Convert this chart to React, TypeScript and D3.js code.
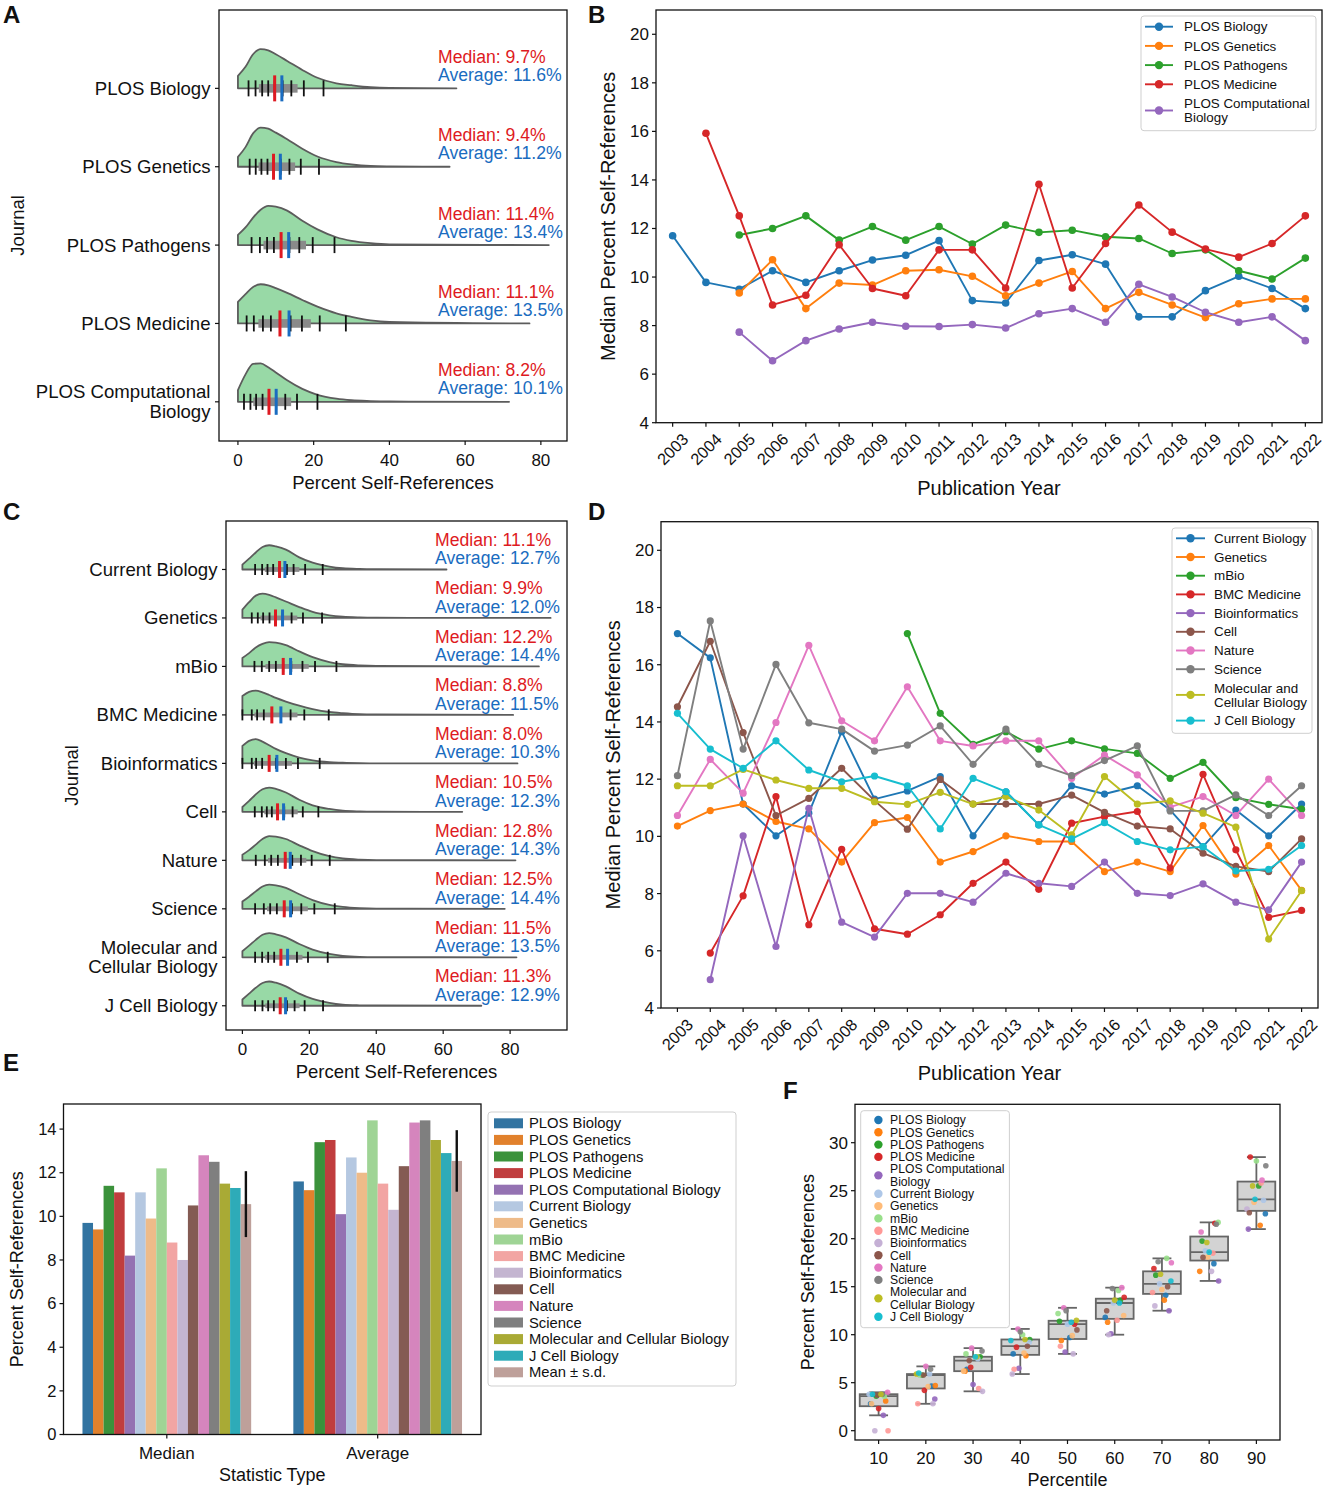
import React, { useEffect, useRef } from 'react';
import * as d3 from 'd3';

const FONT = '"Liberation Sans", Arial, Helvetica, sans-serif';

// journals, in the order used by panels A/C/E/F
const journals = [
  'PLOS Biology', 'PLOS Genetics', 'PLOS Pathogens', 'PLOS Medicine', 'PLOS Computational Biology',
  'Current Biology', 'Genetics', 'mBio', 'BMC Medicine', 'Bioinformatics',
  'Cell', 'Nature', 'Science', 'Molecular and Cellular Biology', 'J Cell Biology',
];
const wrappedNames: Record<string, string[]> = {
  'PLOS Computational Biology': ['PLOS Computational', 'Biology'],
  'Molecular and Cellular Biology': ['Molecular and', 'Cellular Biology'],
};
const journalColors = [
  '#1f77b4', '#ff7f0e', '#2ca02c', '#d62728', '#9467bd',
  '#aec7e8', '#ffbb78', '#98df8a', '#ff9896', '#c5b0d5',
  '#8c564b', '#e377c2', '#7f7f7f', '#bcbd22', '#17becf',
];
const meanColor = '#c49c94';
const tab10 = ['#1f77b4', '#ff7f0e', '#2ca02c', '#d62728', '#9467bd', '#8c564b', '#e377c2', '#7f7f7f', '#bcbd22', '#17becf'];

const medians = [9.7, 9.4, 11.4, 11.1, 8.2, 11.1, 9.9, 12.2, 8.8, 8.0, 10.5, 12.8, 12.5, 11.5, 11.3];
const averages = [11.6, 11.2, 13.4, 13.5, 10.1, 12.7, 12.0, 14.4, 11.5, 10.3, 12.3, 14.3, 14.4, 13.5, 12.9];
const maxima = [57.7, 55.9, 82.1, 77.0, 71.6, 61.0, 92.1, 88.6, 80.9, 82.2, 65.7, 81.6, 78.4, 81.9, 71.4];

const percentileLevels = [10, 20, 30, 40, 50, 60, 70, 80, 90];
// one row per journal: 10th..90th percentile of percent self-references
const percentileValues = [
  [2.8, 4.65, 6.4, 8.0, 9.7, 11.8, 14.1, 17.4, 22.6],
  [3.1, 4.7, 6.2, 7.8, 9.4, 11.3, 13.6, 16.6, 21.4],
  [3.6, 5.8, 7.7, 9.5, 11.4, 13.6, 16.2, 19.75, 25.5],
  [2.3, 4.2, 6.6, 8.7, 11.1, 13.9, 16.9, 21.6, 28.5],
  [1.6, 3.3, 4.8, 6.5, 8.2, 10.1, 12.5, 15.6, 21.0],
  [3.8, 5.9, 7.5, 9.2, 11.1, 13.3, 15.3, 18.75, 24.0],
  [2.8, 4.6, 6.2, 8.1, 9.9, 12.0, 14.7, 18.1, 23.8],
  [3.6, 5.8, 8.0, 10.0, 12.2, 14.6, 17.95, 21.7, 28.1],
  [0, 2.8, 4.4, 6.4, 8.8, 11.5, 14.4, 18.5, 25.8],
  [0, 2.8, 4.1, 5.9, 8.0, 10.0, 13.0, 16.6, 23.1],
  [3.7, 5.8, 7.3, 8.8, 10.5, 12.5, 15.0, 18.05, 22.7],
  [4.0, 6.7, 8.6, 10.6, 12.8, 14.9, 17.5, 20.7, 26.1],
  [3.8, 6.4, 8.3, 10.3, 12.5, 14.8, 17.6, 21.5, 27.6],
  [3.8, 5.9, 7.7, 9.5, 11.5, 13.6, 16.3, 19.6, 25.5],
  [3.8, 6.0, 7.7, 9.4, 11.3, 13.3, 15.6, 18.6, 24.1],
];

// relative density of each half violin, read at these percent values
const densityGrid = [0, 2, 4, 6, 8, 10, 13, 17, 21, 26, 30, 35, 40];
const densityProfiles = [
  [0.32, 0.55, 0.87, 1.0, 0.97, 0.87, 0.7, 0.47, 0.27, 0.13, 0.08, 0.03, 0.01],
  [0.25, 0.5, 0.85, 1.0, 0.97, 0.87, 0.7, 0.46, 0.26, 0.12, 0.06, 0.02, 0.01],
  [0.26, 0.45, 0.7, 0.9, 1.0, 0.98, 0.88, 0.62, 0.4, 0.2, 0.11, 0.05, 0.02],
  [0.55, 0.75, 0.93, 1.0, 0.97, 0.9, 0.78, 0.6, 0.43, 0.26, 0.17, 0.08, 0.04],
  [0.3, 0.7, 0.97, 0.98, 0.88, 0.75, 0.55, 0.33, 0.18, 0.08, 0.04, 0.02, 0.01],
  [0.2, 0.45, 0.7, 0.93, 1.0, 0.95, 0.82, 0.5, 0.28, 0.12, 0.05, 0.02, 0.01],
  [0.34, 0.65, 0.92, 1.0, 0.95, 0.85, 0.68, 0.45, 0.25, 0.11, 0.05, 0.02, 0.01],
  [0.35, 0.55, 0.78, 0.93, 1.0, 0.98, 0.88, 0.62, 0.38, 0.18, 0.09, 0.04, 0.02],
  [0.78, 0.95, 1.0, 0.93, 0.82, 0.7, 0.55, 0.38, 0.24, 0.12, 0.07, 0.03, 0.02],
  [0.72, 0.93, 1.0, 0.9, 0.75, 0.6, 0.42, 0.24, 0.12, 0.05, 0.03, 0.01, 0.0],
  [0.2, 0.45, 0.72, 0.93, 1.0, 0.95, 0.8, 0.5, 0.27, 0.12, 0.05, 0.02, 0.01],
  [0.23, 0.42, 0.65, 0.88, 1.0, 0.98, 0.88, 0.62, 0.38, 0.17, 0.08, 0.03, 0.01],
  [0.3, 0.5, 0.72, 0.92, 1.0, 0.97, 0.86, 0.6, 0.36, 0.16, 0.08, 0.03, 0.01],
  [0.25, 0.48, 0.72, 0.93, 1.0, 0.95, 0.82, 0.55, 0.32, 0.14, 0.06, 0.02, 0.01],
  [0.26, 0.5, 0.74, 0.94, 1.0, 0.95, 0.8, 0.5, 0.28, 0.12, 0.05, 0.02, 0.01],
];

const years = [2003, 2004, 2005, 2006, 2007, 2008, 2009, 2010, 2011, 2012, 2013, 2014, 2015, 2016, 2017, 2018, 2019, 2020, 2021, 2022];

// panel B: median percent self-references per year
const plosBiology = [11.7, 9.78, 9.5, 10.26, 9.78, 10.26, 10.7, 10.9, 11.5, 9.03, 8.93, 10.68, 10.92, 10.53, 8.36, 8.36, 9.44, 10.03, 9.53, 8.7];
const plosGenetics = [null, null, 9.34, 10.71, 8.7, 9.75, 9.67, 10.26, 10.3, 10.03, 9.23, 9.75, 10.23, 8.7, 9.37, 8.85, 8.33, 8.9, 9.1, 9.1];
const plosPathogens = [null, null, 11.73, 12.0, 12.52, 11.52, 12.08, 11.52, 12.08, 11.36, 12.14, 11.84, 11.93, 11.66, 11.59, 10.97, 11.12, 10.26, 9.92, 10.78];
const plosMedicine = [null, 15.92, 12.52, 8.85, 9.25, 11.33, 9.53, 9.23, 11.12, 11.12, 9.55, 13.82, 9.55, 11.38, 12.97, 11.85, 11.15, 10.82, 11.38, 12.52];
const plosCompBio = [null, null, 7.73, 6.55, 7.38, 7.86, 8.14, 7.97, 7.96, 8.04, 7.9, 8.49, 8.7, 8.14, 9.7, 9.18, 8.55, 8.14, 8.36, 7.38];

// panel D
const currentBiology = [17.09, 16.24, 11.13, 10.02, 10.81, 13.66, 11.3, 11.59, 12.09, 10.02, 11.56, 10.4, 11.77, 11.48, 11.77, 10.92, 9.64, 10.92, 10.02, 11.13];
const genetics = [10.36, 10.9, 11.13, 10.52, 10.26, 9.1, 10.48, 10.66, 9.1, 9.47, 10.02, 9.82, 9.82, 8.77, 9.1, 8.77, 10.38, 8.68, 9.68, 8.11];
const mBio = [null, null, null, null, null, null, null, 17.09, 14.3, 13.22, 13.66, 13.05, 13.34, 13.06, 12.9, 12.03, 12.59, 11.35, 11.12, 10.95];
const bmcMedicine = [null, 5.92, 7.92, 11.39, 6.91, 9.55, 6.77, 6.58, 7.26, 8.36, 9.1, 8.15, 10.46, 10.69, 10.87, 8.89, 12.17, 9.53, 7.17, 7.41];
const bioinformatics = [null, 4.99, 10.02, 6.15, 10.98, 7.0, 6.48, 8.01, 8.01, 7.7, 8.71, 8.36, 8.25, 9.1, 8.01, 7.93, 8.34, 7.7, 7.43, 9.1];
const cell = [14.53, 16.82, 13.63, 10.73, 11.33, 12.38, 11.25, 10.25, 11.99, 11.13, 11.13, 11.13, 11.44, 10.84, 10.36, 10.26, 9.41, 8.95, 8.77, 9.91];
const nature = [10.73, 12.69, 11.51, 13.98, 16.68, 14.04, 13.34, 15.23, 13.34, 13.16, 13.34, 13.34, 12.03, 12.84, 12.15, 11.02, 11.39, 10.73, 12.0, 10.73];
const science = [12.12, 17.53, 13.05, 16.01, 13.97, 13.75, 12.98, 13.19, 13.86, 12.52, 13.75, 12.52, 12.12, 12.65, 13.16, 10.89, 10.89, 11.45, 10.73, 11.77];
const molCellBiology = [11.77, 11.77, 12.34, 11.97, 11.68, 11.68, 11.21, 11.12, 11.54, 11.13, 11.39, 10.92, 10.05, 12.09, 11.13, 11.24, 10.81, 10.32, 6.41, 8.1];
const jCellBiology = [14.3, 13.05, 12.38, 13.34, 12.32, 11.91, 12.11, 11.77, 10.26, 12.03, 11.56, 10.4, 9.91, 10.48, 9.82, 9.53, 9.64, 8.79, 8.85, 9.68];

const plosSeries = [plosBiology, plosGenetics, plosPathogens, plosMedicine, plosCompBio];
const otherSeries = [currentBiology, genetics, mBio, bmcMedicine, bioinformatics, cell, nature, science, molCellBiology, jCellBiology];

const statTypes = ['Median', 'Average'];
const yearTicks = [4, 6, 8, 10, 12, 14, 16, 18, 20];

const RED = '#de1a22';
const BLUE = '#1a6cc0';

type Sel = d3.Selection<any, any, any, any>;

const nameLines = (n: string) => wrappedNames[n] ?? [n];

function label(g: Sel, x: number, y: number, s: string, size: number, o: any = {}) {
  const t = g.append('text')
    .attr('x', x).attr('y', y)
    .attr('font-size', size)
    .attr('fill', o.fill || '#111')
    .attr('text-anchor', o.anchor || 'start')
    .text(s);
  if (o.dy) t.attr('dy', o.dy);
  if (o.weight) t.attr('font-weight', o.weight);
  if (o.rotate != null) t.attr('transform', `rotate(${o.rotate},${x},${y})`);
  return t;
}

function frame(g: Sel, l: number, t: number, r: number, b: number) {
  g.append('rect').attr('x', l).attr('y', t).attr('width', r - l).attr('height', b - t)
    .attr('fill', 'none').attr('stroke', '#111').attr('stroke-width', 1.3);
}

function legendBox(g: Sel, x0: number, y0: number, x1: number, y1: number) {
  g.append('rect').attr('x', x0).attr('y', y0).attr('width', x1 - x0).attr('height', y1 - y0)
    .attr('rx', 3).attr('fill', '#fff').attr('fill-opacity', 0.85)
    .attr('stroke', '#cfcfcf').attr('stroke-width', 1);
}

// rows of a legend: returns text line positions and the marker centre of every entry
function legendRows(entries: string[][], start: number, rowGap: number, lineGap: number) {
  let y = start;
  return entries.map((ls) => {
    const ys = ls.map((_, k) => y + k * lineGap);
    const mid = (ys[0] + ys[ys.length - 1]) / 2;
    y = ys[ys.length - 1] + rowGap;
    return { ys, mid };
  });
}

function drawViolins(svg: Sel, cfg: any) {
  const g = svg.append('g');
  const x = d3.scaleLinear().domain(cfg.xDomain).range([cfg.left, cfg.right]);
  const y = d3.scaleLinear().domain([-1, cfg.ids.length - 0.5]).range([cfg.top, cfg.bottom]);
  const unit = y(1) - y(0);
  const h = unit * 0.5;

  cfg.ids.forEach((j: number, i: number) => {
    const y0 = y(i);
    const pts: [number, number][] = densityGrid.map((v, k) => [x(v), y0 - densityProfiles[j][k] * h]);
    pts.push([x(maxima[j]), y0]);
    const curve = d3.line().curve(d3.curveMonotoneX)(pts) as string;
    g.append('path')
      .attr('d', `M${x(0)},${y0}L${curve.slice(1)}Z`)
      .attr('fill', '#98d9a6').attr('stroke', '#5c5c5c').attr('stroke-width', 1.8)
      .attr('stroke-linejoin', 'round');

    const p = percentileValues[j];
    const q1 = (p[1] + p[2]) / 2;
    const q3 = (p[6] + p[7]) / 2;
    g.append('rect').attr('x', x(q1)).attr('y', y0 - cfg.boxHalf)
      .attr('width', x(q3) - x(q1)).attr('height', cfg.boxHalf * 2).attr('fill', '#8a8a8a');

    p.forEach((v) => {
      g.append('line').attr('x1', x(v)).attr('x2', x(v))
        .attr('y1', y0 - cfg.tickHalf).attr('y2', y0 + cfg.tickHalf)
        .attr('stroke', '#111').attr('stroke-width', 1.8);
    });
    [[medians[j], RED], [averages[j], BLUE]].forEach(([v, c]) => {
      g.append('line').attr('x1', x(v as number)).attr('x2', x(v as number))
        .attr('y1', y0 - cfg.markHalf).attr('y2', y0 + cfg.markHalf)
        .attr('stroke', c as string).attr('stroke-width', 3);
    });

    label(g, cfg.textX, y0 + cfg.medDy, `Median: ${medians[j].toFixed(1)}%`, 17.6, { fill: RED });
    label(g, cfg.textX, y0 + cfg.avgDy, `Average: ${averages[j].toFixed(1)}%`, 17.6, { fill: BLUE });

    // category tick + label
    g.append('line').attr('x1', cfg.left - 4).attr('x2', cfg.left).attr('y1', y0).attr('y2', y0)
      .attr('stroke', '#111').attr('stroke-width', 1.2);
    const ls = nameLines(journals[j]);
    ls.forEach((s, k) => {
      label(g, cfg.left - 8.5, y0 + (k - (ls.length - 1) / 2) * cfg.lineGap, s, 18.6, { anchor: 'end', dy: '0.35em' });
    });
  });

  frame(g, cfg.left, cfg.top, cfg.right, cfg.bottom);
  [0, 20, 40, 60, 80].forEach((v) => {
    g.append('line').attr('x1', x(v)).attr('x2', x(v)).attr('y1', cfg.bottom).attr('y2', cfg.bottom + 4)
      .attr('stroke', '#111').attr('stroke-width', 1.2);
    label(g, x(v), cfg.bottom + 25, String(v), 17, { anchor: 'middle' });
  });
  label(g, (cfg.left + cfg.right) / 2, cfg.bottom + 48, 'Percent Self-References', 18.5, { anchor: 'middle' });
  label(g, cfg.journalX, (cfg.top + cfg.bottom) / 2 + cfg.journalDy, 'Journal', 18.5, { anchor: 'middle', rotate: -90, dy: '0.35em' });
}

function drawLines(svg: Sel, cfg: any) {
  const g = svg.append('g');
  const x = d3.scaleLinear().domain([2002.5, 2022.5]).range([cfg.left, cfg.right]);
  const y = d3.scaleLinear().domain([4, 21]).range([cfg.bottom, cfg.top]);

  cfg.series.forEach((vals: (number | null)[], i: number) => {
    const pts = years.map((yr, k) => ({ yr, v: vals[k] })).filter((d) => d.v != null) as { yr: number; v: number }[];
    const line = d3.line<{ yr: number; v: number }>().x((d) => x(d.yr)).y((d) => y(d.v));
    const sg = g.append('g');
    sg.append('path').attr('d', line(pts) as string).attr('fill', 'none')
      .attr('stroke', tab10[i]).attr('stroke-width', 1.9).attr('stroke-linejoin', 'round');
    sg.selectAll('circle').data(pts).enter().append('circle')
      .attr('cx', (d) => x(d.yr)).attr('cy', (d) => y(d.v)).attr('r', cfg.r).attr('fill', tab10[i]);
  });

  frame(g, cfg.left, cfg.top, cfg.right, cfg.bottom);
  yearTicks.forEach((v) => {
    g.append('line').attr('x1', cfg.left - 4).attr('x2', cfg.left).attr('y1', y(v)).attr('y2', y(v))
      .attr('stroke', '#111').attr('stroke-width', 1.2);
    label(g, cfg.left - 7, y(v), String(v), 17, { anchor: 'end', dy: '0.35em' });
  });
  years.forEach((yr) => {
    g.append('line').attr('x1', x(yr)).attr('x2', x(yr)).attr('y1', cfg.bottom).attr('y2', cfg.bottom + 4)
      .attr('stroke', '#111').attr('stroke-width', 1.2);
    const tx = x(yr), ty = cfg.bottom + 26.5;
    g.append('text').attr('transform', `translate(${tx},${ty}) rotate(-45)`)
      .attr('text-anchor', 'middle').attr('dy', '0.35em').attr('font-size', 16.3).attr('fill', '#111')
      .text(String(yr));
  });
  label(g, (cfg.left + cfg.right) / 2, cfg.bottom + 72, 'Publication Year', 20, { anchor: 'middle' });
  label(g, cfg.yLabelX, (cfg.top + cfg.bottom) / 2, 'Median Percent Self-References', 20, { anchor: 'middle', rotate: -90, dy: '0.35em' });

  const L = cfg.legend;
  legendBox(g, L.x0, L.y0, L.x1, L.y1);
  const entries = cfg.names.map((n: string) => nameLines(n));
  legendRows(entries, L.start, L.rowGap, L.lineGap).forEach((row, i) => {
    g.append('line').attr('x1', L.lx0).attr('x2', L.lx1).attr('y1', row.mid).attr('y2', row.mid)
      .attr('stroke', tab10[i]).attr('stroke-width', 1.9);
    g.append('circle').attr('cx', (L.lx0 + L.lx1) / 2).attr('cy', row.mid).attr('r', 4.2).attr('fill', tab10[i]);
    row.ys.forEach((yy, k) => label(g, L.tx, yy, entries[i][k], 13.4, { dy: '0.35em' }));
  });
}

const desat = (c: string) => {
  const h = d3.hsl(c);
  h.s *= 0.75;
  return h.formatHex();
};

function drawBars(svg: Sel) {
  const g = svg.append('g');
  const left = 63.5, right = 481, top = 1104, bottom = 1434.5;
  const x = d3.scaleLinear().domain([-0.49, 1.49]).range([left, right]);
  const y = d3.scaleLinear().domain([0, 15.15]).range([bottom, top]);
  const n = journals.length + 1;
  const bw = 0.8 / n;
  const groups = [medians, averages];

  groups.forEach((vals, gi) => {
    const mean = d3.mean(vals) as number;
    const sd = d3.deviation(vals) as number;
    const all = [...vals, mean];
    all.forEach((v, i) => {
      const c = i < journals.length ? journalColors[i] : meanColor;
      const x0 = gi - 0.4 + bw * i;
      g.append('rect').attr('x', x(x0)).attr('y', y(v)).attr('width', x(x0 + bw) - x(x0))
        .attr('height', y(0) - y(v)).attr('fill', desat(c));
    });
    const xc = x(gi - 0.4 + bw * (n - 0.5));
    g.append('line').attr('x1', xc).attr('x2', xc).attr('y1', y(mean - sd)).attr('y2', y(mean + sd))
      .attr('stroke', '#111').attr('stroke-width', 2.4);
  });

  frame(g, left, top, right, bottom);
  d3.range(0, 15, 2).forEach((v) => {
    g.append('line').attr('x1', left - 4).attr('x2', left).attr('y1', y(v)).attr('y2', y(v))
      .attr('stroke', '#111').attr('stroke-width', 1.2);
    label(g, left - 7, y(v), String(v), 16.5, { anchor: 'end', dy: '0.35em' });
  });
  statTypes.forEach((s, i) => {
    g.append('line').attr('x1', x(i)).attr('x2', x(i)).attr('y1', bottom).attr('y2', bottom + 4)
      .attr('stroke', '#111').attr('stroke-width', 1.2);
    label(g, x(i), bottom + 24, s, 17, { anchor: 'middle' });
  });
  label(g, (left + right) / 2, bottom + 46, 'Statistic Type', 18, { anchor: 'middle' });
  label(g, 17, (top + bottom) / 2, 'Percent Self-References', 18, { anchor: 'middle', rotate: -90, dy: '0.35em' });

  legendBox(g, 488, 1112, 736, 1386);
  const names = [...journals, 'Mean \u00b1 s.d.'];
  names.forEach((s, i) => {
    const yy = 1123.3 + 16.6 * i;
    const c = i < journals.length ? journalColors[i] : meanColor;
    g.append('rect').attr('x', 494).attr('y', yy - 5).attr('width', 29).attr('height', 10).attr('fill', desat(c));
    label(g, 529, yy, s, 14.8, { dy: '0.35em' });
  });
}

// fixed horizontal spread of the strip points (fraction of a category)
const jitterOffsets = [-0.17, 0.05, 0.19, -0.08, 0.12, -0.2, 0.0, 0.15, -0.13, 0.08, -0.03, 0.2, -0.15, 0.1, -0.05];

function drawBoxes(svg: Sel) {
  const g = svg.append('g');
  const left = 855, right = 1280, top = 1104.3, bottom = 1440;
  const x = d3.scaleLinear().domain([-0.5, 8.5]).range([left, right]);
  const y = d3.scaleLinear().domain([-0.97, 34]).range([bottom, top]);
  const edge = '#666';

  percentileLevels.forEach((_, p) => {
    const vals = percentileValues.map((r) => r[p]).sort(d3.ascending);
    const q1 = d3.quantileSorted(vals, 0.25) as number;
    const med = d3.quantileSorted(vals, 0.5) as number;
    const q3 = d3.quantileSorted(vals, 0.75) as number;
    const iqr = q3 - q1;
    const lo = d3.min(vals.filter((v) => v >= q1 - 1.5 * iqr)) as number;
    const hi = d3.max(vals.filter((v) => v <= q3 + 1.5 * iqr)) as number;
    const ln = (x1: number, y1: number, x2: number, y2: number) =>
      g.append('line').attr('x1', x1).attr('y1', y1).attr('x2', x2).attr('y2', y2)
        .attr('stroke', edge).attr('stroke-width', 1.8);
    ln(x(p), y(q1), x(p), y(lo));
    ln(x(p), y(q3), x(p), y(hi));
    ln(x(p - 0.2), y(lo), x(p + 0.2), y(lo));
    ln(x(p - 0.2), y(hi), x(p + 0.2), y(hi));
    g.append('rect').attr('x', x(p - 0.4)).attr('y', y(q3)).attr('width', x(p + 0.4) - x(p - 0.4))
      .attr('height', y(q1) - y(q3)).attr('fill', '#d3d3d3').attr('stroke', edge).attr('stroke-width', 1.8);
    ln(x(p - 0.4), y(med), x(p + 0.4), y(med));
  });

  percentileValues.forEach((row, j) => {
    row.forEach((v, p) => {
      const off = jitterOffsets[(j * 7 + p * 4) % jitterOffsets.length];
      g.append('circle').attr('cx', x(p + off)).attr('cy', y(v)).attr('r', 2.8)
        .attr('fill', journalColors[j]).attr('fill-opacity', 0.9);
    });
  });

  frame(g, left, top, right, bottom);
  d3.range(0, 31, 5).forEach((v) => {
    g.append('line').attr('x1', left - 4).attr('x2', left).attr('y1', y(v)).attr('y2', y(v))
      .attr('stroke', '#111').attr('stroke-width', 1.2);
    label(g, left - 7, y(v), String(v), 17, { anchor: 'end', dy: '0.35em' });
  });
  percentileLevels.forEach((lv, p) => {
    g.append('line').attr('x1', x(p)).attr('x2', x(p)).attr('y1', bottom).attr('y2', bottom + 4)
      .attr('stroke', '#111').attr('stroke-width', 1.2);
    label(g, x(p), bottom + 24, String(lv), 17, { anchor: 'middle' });
  });
  label(g, (left + right) / 2, bottom + 46, 'Percentile', 18, { anchor: 'middle' });
  label(g, 808, (top + bottom) / 2, 'Percent Self-References', 18, { anchor: 'middle', rotate: -90, dy: '0.35em' });

  legendBox(g, 860.7, 1110.7, 1009.4, 1327.7);
  const entries = journals.map((n) => nameLines(n));
  legendRows(entries, 1120, 12.3, 12.3).forEach((row, i) => {
    g.append('circle').attr('cx', 878.4).attr('cy', row.mid).attr('r', 4.2).attr('fill', journalColors[i]);
    row.ys.forEach((yy, k) => label(g, 890, yy, entries[i][k], 12.2, { dy: '0.35em' }));
  });
}

const App: React.FC = () => {
  const svgRef = useRef<SVGSVGElement>(null);

  useEffect(() => {
    if (!svgRef.current) return;
    const svg = d3.select(svgRef.current);
    svg.selectAll('*').remove();

    drawViolins(svg, {
      ids: [0, 1, 2, 3, 4], left: 219, right: 567, top: 10, bottom: 441, xDomain: [-5.0, 86.9],
      boxHalf: 4.3, tickHalf: 8, markHalf: 13, textX: 438, medDy: -25.5, avgDy: -7.5,
      lineGap: 20, journalX: 18, journalDy: 0,
    });
    drawViolins(svg, {
      ids: [5, 6, 7, 8, 9, 10, 11, 12, 13, 14], left: 226, right: 567, top: 521, bottom: 1030, xDomain: [-4.9, 97.0],
      boxHalf: 2.4, tickHalf: 5.5, markHalf: 8.5, textX: 435, medDy: -23.5, avgDy: -5,
      lineGap: 19, journalX: 72, journalDy: 0,
    });
    drawLines(svg, {
      series: plosSeries, names: journals.slice(0, 5),
      left: 656, right: 1322, top: 10, bottom: 422.7, r: 3.8, yLabelX: 608,
      legend: { x0: 1141, y0: 16, x1: 1316, y1: 130.7, start: 26.7, rowGap: 19.2, lineGap: 14, lx0: 1145, lx1: 1173, tx: 1184 },
    });
    drawLines(svg, {
      series: otherSeries, names: journals.slice(5),
      left: 661, right: 1318, top: 521.7, bottom: 1008, r: 3.6, yLabelX: 613,
      legend: { x0: 1172, y0: 528, x1: 1312, y1: 733.3, start: 538.3, rowGap: 18.7, lineGap: 14, lx0: 1176, lx1: 1205, tx: 1214 },
    });
    drawBars(svg);
    drawBoxes(svg);

    const letters: [string, number, number][] = [
      ['A', 3, 23], ['B', 588, 23], ['C', 3, 520], ['D', 588, 520], ['E', 3, 1071], ['F', 783, 1099],
    ];
    letters.forEach(([s, lx, ly]) => label(svg, lx, ly, s, 24, { weight: 'bold' }));
  }, []);

  return (
    <>
      <style>{'body{margin:0;background:#fff}'}</style>
      <svg ref={svgRef} width={1325} height={1490} style={{ display: 'block', fontFamily: FONT }} />
    </>
  );
};

export default App;
